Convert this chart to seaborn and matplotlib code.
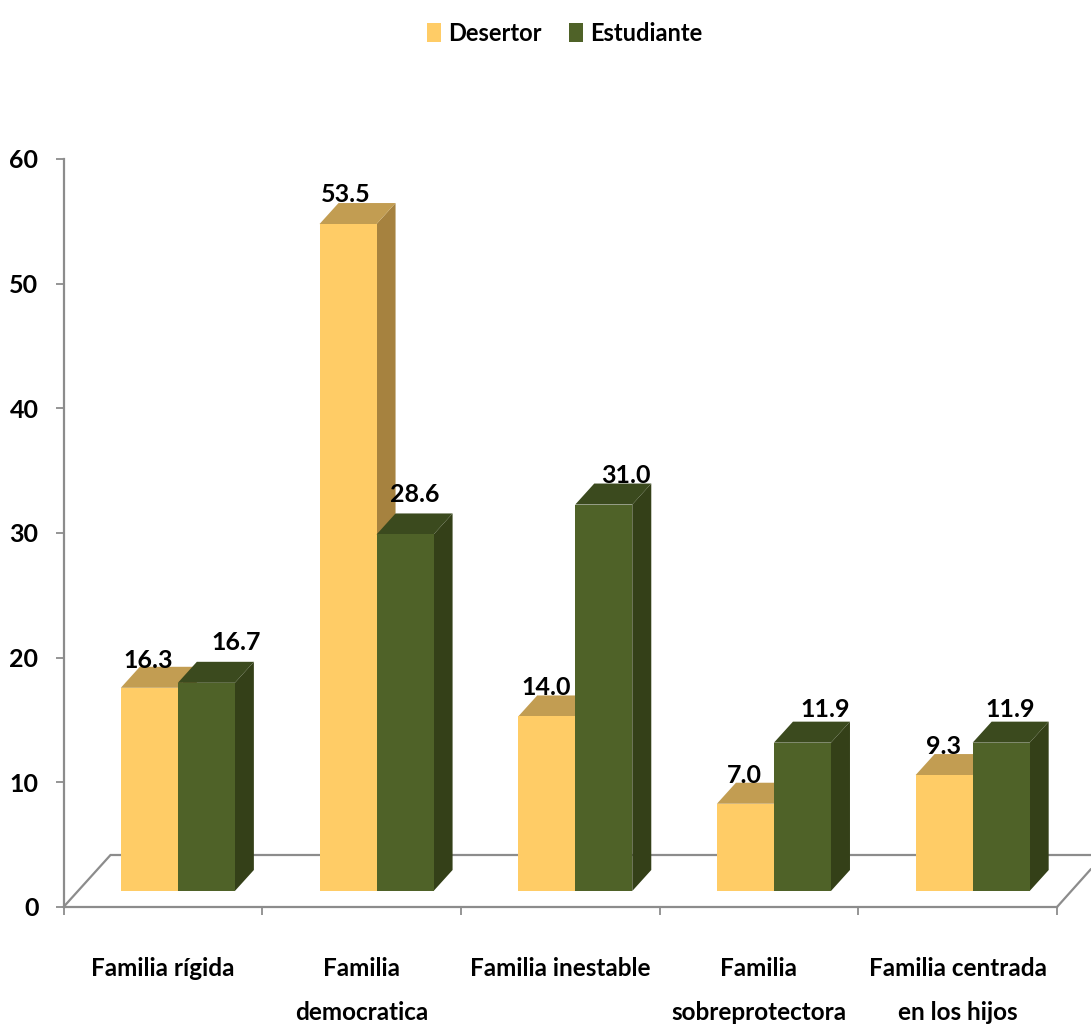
import matplotlib
matplotlib.use('Agg')
import matplotlib.pyplot as plt
from matplotlib.patches import Polygon
import pandas as pd
import seaborn as sns

categorias = ['Familia rígida', 'Familia\ndemocratica', 'Familia inestable',
              'Familia\nsobreprotectora', 'Familia centrada\nen los hijos']
desertor = [16.3, 53.5, 14.0, 7.0, 9.3]
estudiante = [16.7, 28.6, 31.0, 11.9, 11.9]
eje_y = [0, 10, 20, 30, 40, 50, 60]

sns.set_theme(style='white')
plt.rcParams['font.family'] = ['Lato', 'DejaVu Sans']
plt.rcParams['font.weight'] = 'bold'
plt.rcParams['text.color'] = 'black'
plt.rcParams['xtick.labelcolor'] = 'black'
plt.rcParams['ytick.labelcolor'] = 'black'

df = pd.DataFrame({
    'categoria': categorias * 2,
    'valor': desertor + estudiante,
    'grupo': ['Desertor'] * 5 + ['Estudiante'] * 5,
})

fig = plt.figure(figsize=(10.91, 10.28), dpi=100)
ax = fig.add_axes([63.5 / 1091, 121 / 1028, 993.5 / 1091, 748 / 1028])

ax = sns.barplot(data=df, x='categoria', y='valor', hue='grupo', ax=ax,
                 palette=['#FFCC66', '#4F6228'], width=0.574, gap=0,
                 saturation=1, errorbar=None, linewidth=0)
ax.set_xlim(-0.5, 4.5)
ax.set_ylim(0, 60)
ax.set_xlabel('')
ax.set_ylabel('')

# pixeles -> unidades de datos
ux = 5 / 993.5
uy = 60 / 748

gris = '#8C8C8C'
# piso 3D
ax.plot([-0.5, -0.5 + 47 * ux, 4.5 + 34 * ux], [0, 52 * uy, 52 * uy],
        color=gris, lw=1.6, clip_on=False, zorder=1, solid_joinstyle='miter')
ax.plot([4.5, 4.5 + 34 * ux], [0, 38 * uy], color=gris, lw=1.6, clip_on=False, zorder=1)

# caras laterales y superiores de cada barra
dx = 19 * ux
dy = 21 * uy
base = 16 * uy
corrimiento = 15 * ux
colores_top = ['#C29D52', '#3B4A1E']
colores_lado = ['#A6823F', '#344018']

offsets = [
    [(-1, 20), (-2, 22), (-1, 21), (-1, 21), (-1, 21)],
    [(30, 33), (10, 32), (22, 22), (23, 26), (9, 26)],
]

for k, barras in enumerate(ax.containers):
    for j, p in enumerate(barras):
        p.set_x(p.get_x() + corrimiento)
        p.set_y(base)
        p.set_zorder(3 + 2 * k)
        x0, x1 = p.get_x(), p.get_x() + p.get_width()
        y0, y1 = base, base + p.get_height()
        ax.add_patch(Polygon([(x1, y0), (x1 + dx, y0 + dy), (x1 + dx, y1 + dy), (x1, y1)],
                             closed=True, fc=colores_lado[k], lw=0, zorder=2 + 2 * k))
        ax.add_patch(Polygon([(x0, y1), (x0 + dx, y1 + dy), (x1 + dx, y1 + dy), (x1, y1)],
                             closed=True, fc=colores_top[k], lw=0, zorder=2 + 2 * k))
        ax.annotate(f'{p.get_height():.1f}', xy=((x0 + x1) / 2, y1),
                    xytext=(offsets[k][j][0] * 0.72, offsets[k][j][1] * 0.72),
                    textcoords='offset points', ha='center', va='baseline',
                    fontsize=18, color='black', zorder=10)

sns.despine(ax=ax)
for lado in ['left', 'bottom']:
    ax.spines[lado].set_color(gris)
    ax.spines[lado].set_linewidth(1.6)

ax.set_yticks(eje_y)
ax.tick_params(axis='y', left=True, length=6, width=1.3, color=gris, labelsize=18, pad=12)
ax.set_xticks([-0.5, 0.5, 1.5, 2.5, 3.5, 4.5], labels=[''] * 6)
ax.set_xticks([0, 1, 2, 3, 4], labels=categorias, minor=True)
ax.tick_params(axis='x', which='major', bottom=True, length=6, width=1.3, color=gris)
ax.tick_params(axis='x', which='minor', bottom=False, length=0, labelsize=17.5, pad=36)
for t in ax.get_xticklabels(minor=True):
    t.set_linespacing(2.1)

sns.move_legend(ax, 'upper left', bbox_to_anchor=(427 / 1091, 1 - 22 / 1028),
                bbox_transform=fig.transFigure, ncol=2, frameon=False, title=None,
                fontsize=17, handlelength=0.6, handleheight=0.85,
                handletextpad=0.3, columnspacing=1.14, borderpad=0, borderaxespad=0)

fig.savefig('out.png', dpi=100)
